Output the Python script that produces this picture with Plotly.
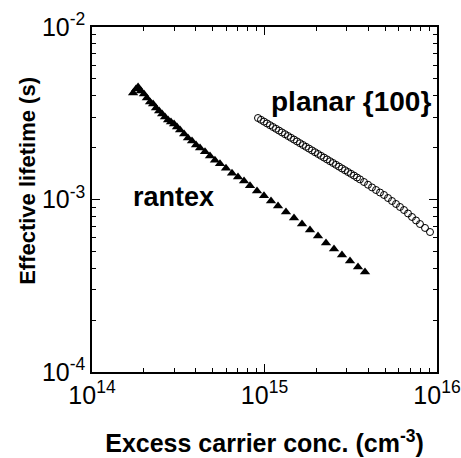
import plotly.graph_objects as go

# rantex (filled triangles)
rantex_n = [1.73e14, 1.80e14, 1.85e14, 1.92e14, 2.00e14, 2.08e14, 2.17e14, 2.26e14, 2.35e14, 2.45e14,
            2.55e14, 2.65e14, 2.76e14, 2.87e14, 2.99e14, 3.11e14, 3.24e14, 3.42e14, 3.60e14, 3.80e14,
            4.01e14, 4.23e14, 4.52e14, 4.83e14, 5.16e14, 5.52e14, 5.98e14, 6.48e14, 7.02e14, 7.61e14,
            8.24e14, 9.05e14, 9.93e14, 1.091e15, 1.198e15, 1.332e15, 1.483e15, 1.650e15, 1.835e15, 2.043e15,
            2.273e15, 2.529e15, 2.813e15, 3.131e15, 3.483e15, 3.825e15]
rantex_tau = [4.14e-3, 4.37e-3, 4.49e-3, 4.26e-3, 4.09e-3, 3.88e-3, 3.67e-3, 3.58e-3, 3.39e-3, 3.26e-3,
              3.13e-3, 3.01e-3, 2.89e-3, 2.81e-3, 2.74e-3, 2.63e-3, 2.53e-3, 2.40e-3, 2.27e-3, 2.18e-3,
              2.07e-3, 1.99e-3, 1.89e-3, 1.79e-3, 1.69e-3, 1.61e-3, 1.52e-3, 1.42e-3, 1.35e-3, 1.28e-3,
              1.20e-3, 1.12e-3, 1.05e-3, 9.80e-4, 9.17e-4, 8.46e-4, 7.81e-4, 7.21e-4, 6.66e-4, 6.14e-4,
              5.59e-4, 5.16e-4, 4.77e-4, 4.40e-4, 4.06e-4, 3.80e-4]

# planar {100} (open circles)
planar_n = [9.17e14, 9.54e14, 9.93e14, 1.034e15, 1.076e15, 1.120e15, 1.166e15, 1.214e15, 1.263e15, 1.315e15,
            1.369e15, 1.424e15, 1.483e15, 1.543e15, 1.606e15, 1.672e15, 1.740e15, 1.811e15, 1.886e15, 1.963e15,
            2.043e15, 2.126e15, 2.213e15, 2.304e15, 2.398e15, 2.496e15, 2.597e15, 2.704e15, 2.813e15, 2.929e15,
            3.048e15, 3.173e15, 3.303e15, 3.438e15, 3.577e15, 3.774e15, 3.981e15, 4.200e15, 4.431e15, 4.673e15,
            4.930e15, 5.199e15, 5.485e15, 5.786e15, 6.103e15, 6.438e15, 6.791e15, 7.164e15, 7.557e15, 7.968e15,
            8.520e15, 9.108e15]
planar_tau = [2.968e-3, 2.897e-3, 2.828e-3, 2.761e-3, 2.696e-3, 2.632e-3, 2.570e-3, 2.509e-3, 2.449e-3, 2.391e-3,
              2.334e-3, 2.279e-3, 2.225e-3, 2.172e-3, 2.120e-3, 2.070e-3, 2.021e-3, 1.973e-3, 1.926e-3, 1.880e-3,
              1.836e-3, 1.792e-3, 1.750e-3, 1.708e-3, 1.667e-3, 1.628e-3, 1.589e-3, 1.551e-3, 1.514e-3, 1.478e-3,
              1.443e-3, 1.409e-3, 1.376e-3, 1.341e-3, 1.308e-3, 1.263e-3, 1.218e-3, 1.175e-3, 1.135e-3, 1.098e-3,
              1.062e-3, 1.020e-3, 9.80e-4, 9.42e-4, 9.05e-4, 8.69e-4, 8.30e-4, 7.92e-4, 7.56e-4, 7.21e-4,
              6.84e-4, 6.48e-4]

x_ticks = [1e14, 1e15, 1e16]
x_ticktext = ["10<sup>14</sup>", "10<sup>15</sup>", "10<sup>16</sup>"]
y_ticks = [1e-4, 1e-3, 1e-2]
y_ticktext = ["10<sup>-4</sup>", "10<sup>-3</sup>", "10<sup>-2</sup>"]

FONT = "Liberation Sans, Arial, sans-serif"

fig = go.Figure()
fig.add_trace(go.Scatter(x=rantex_n, y=rantex_tau, mode="markers", name="rantex",
                         marker=dict(symbol="triangle-up", size=9, color="black", line=dict(width=0))))
fig.add_trace(go.Scatter(x=planar_n, y=planar_tau, mode="markers", name="planar {100}",
                         marker=dict(symbol="circle-open", size=7, color="black", line=dict(width=1))))

minor_x = [m * 10 ** e for e in (14, 15) for m in range(2, 10)]
minor_y = [m * 10 ** e for e in (-4, -3) for m in range(2, 10)]

axis_common = dict(showgrid=False, zeroline=False, showline=True, linecolor="black", linewidth=1.5,
                   mirror="ticks", ticks="inside", ticklen=8, tickwidth=1.2, tickcolor="black",
                   tickfont=dict(family=FONT, size=25, color="black"))

fig.update_xaxes(type="log", range=[14, 16], tickvals=x_ticks, ticktext=x_ticktext,
                 minor=dict(ticks="inside", ticklen=4, tickwidth=1.2, tickcolor="black", tickvals=minor_x),
                 title=dict(text="<b>Excess carrier conc. (cm<sup>-3</sup>)</b>",
                            font=dict(family=FONT, size=25, color="black"), standoff=27),
                 **axis_common)
fig.update_yaxes(type="log", range=[-4, -2], tickvals=y_ticks, ticktext=y_ticktext,
                 minor=dict(ticks="inside", ticklen=4, tickwidth=1.2, tickcolor="black", tickvals=minor_y),
                 **axis_common)

# y-axis title (placed slightly above the plot's centre, as in the reference)
fig.add_annotation(x=-0.1855, y=0.554, xref="paper", yref="paper", text="<b>Effective lifetime (s)</b>",
                   textangle=-90, showarrow=False, xanchor="center", yanchor="middle",
                   font=dict(family=FONT, size=22, color="black"))

fig.add_annotation(x=15.499, y=-2.43, xref="x", yref="y", text="<b>planar {100}</b>", showarrow=False,
                   font=dict(family=FONT, size=28, color="black"))
fig.add_annotation(x=14.4725, y=-2.9855, xref="x", yref="y", text="<b>rantex</b>", showarrow=False,
                   font=dict(family=FONT, size=27, color="black"))

fig.update_layout(width=461, height=458, margin=dict(l=92, r=24, t=27, b=86, autoexpand=False),
                  paper_bgcolor="white", plot_bgcolor="white", showlegend=False)

fig.write_html("out.html")
